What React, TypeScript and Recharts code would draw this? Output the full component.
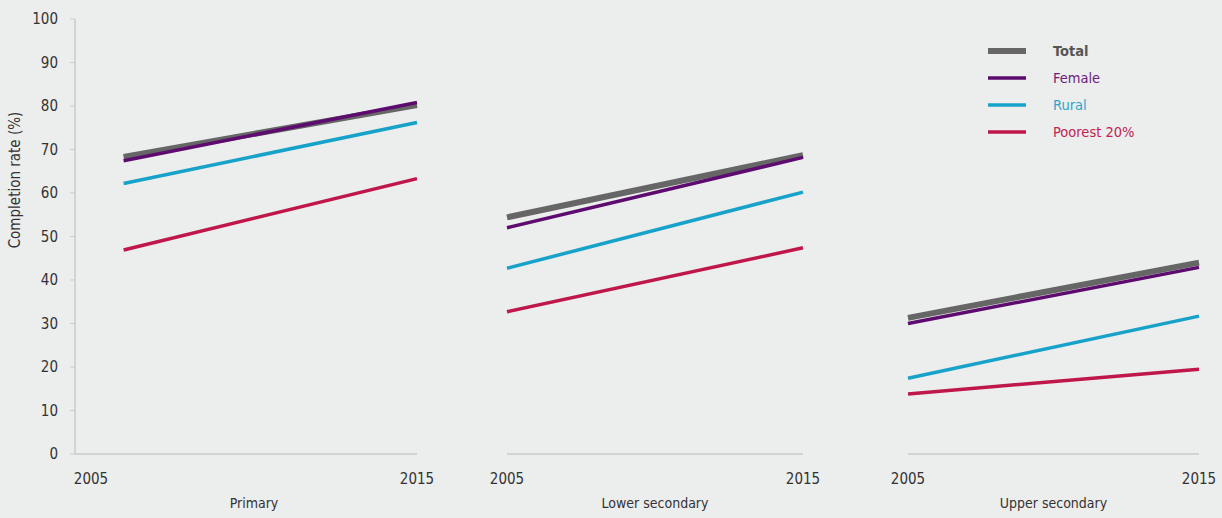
import React from 'react';
import { LineChart, Line, XAxis, YAxis, Label } from 'recharts';

// Education level of each panel
const levels = ['Primary', 'Lower secondary', 'Upper secondary'];
const startYears = [2006, 2005, 2005];
const endYears = [2015, 2015, 2015];
const xTicks = [2005, 2015];
const yTicks = [0, 10, 20, 30, 40, 50, 60, 70, 80, 90, 100];

// Completion rate (%) at the start and end year, one value per panel
const totalStart = [68.3, 54.4, 31.3];
const totalEnd = [80.2, 68.7, 44.0];
const femaleStart = [67.4, 52.0, 30.0];
const femaleEnd = [80.8, 68.2, 42.9];
const ruralStart = [62.2, 42.7, 17.4];
const ruralEnd = [76.2, 60.2, 31.7];
const poorestStart = [46.9, 32.7, 13.8];
const poorestEnd = [63.3, 47.4, 19.5];

const FONT = '"Liberation Sans Narrow", "DejaVu Sans Condensed", "DejaVu Sans", sans-serif';
const TEXT = '#333333';
const AXIS = '#c9cbc9';

const series = [
  { key: 'total', name: 'Total', color: '#666666', text: '#555555', width: 6, bold: true },
  { key: 'female', name: 'Female', color: '#5e0b6f', text: '#6a1e7c', width: 3.5, bold: false },
  { key: 'rural', name: 'Rural', color: '#17a2c9', text: '#2ba6cb', width: 3.5, bold: false },
  { key: 'poorest', name: 'Poorest 20%', color: '#c0174b', text: '#c02352', width: 3.5, bold: false },
];

// Builds the two points of each panel
const panelData = levels.map((_, i) => [
  { year: startYears[i], total: totalStart[i], female: femaleStart[i], rural: ruralStart[i], poorest: poorestStart[i] },
  { year: endYears[i], total: totalEnd[i], female: femaleEnd[i], rural: ruralEnd[i], poorest: poorestEnd[i] },
]);

const panels = [
  { left: 0, width: 450, mLeft: 0, mRight: 33, padLeft: 16, showY: true },
  { left: 480, width: 340, mLeft: 27, mRight: 17, padLeft: 0, showY: false },
  { left: 880, width: 342, mLeft: 28, mRight: 23, padLeft: 0, showY: false },
];

function PanelTitle({ viewBox, value, padLeft }: any) {
  const cx = viewBox.x + padLeft / 2 + viewBox.width / 2;
  return (
    <text x={cx} y={508} textAnchor="middle" fill={TEXT} fontSize={14} fontFamily={FONT}>
      {value}
    </text>
  );
}

function YTitle() {
  return (
    <text
      x={15}
      y={180}
      transform="rotate(-90 15 180)"
      textAnchor="middle"
      dominantBaseline="central"
      fill={TEXT}
      fontSize={15}
      fontFamily={FONT}
    >
      Completion rate (%)
    </text>
  );
}

function SeriesLegend() {
  return (
    <div style={{ position: 'absolute', left: 988, top: 37 }}>
      {series.map((s) => (
        <div key={s.key} style={{ display: 'flex', alignItems: 'center', height: 27 }}>
          <svg width={38} height={10} style={{ marginRight: 27 }}>
            <line x1={0} y1={5} x2={38} y2={5} stroke={s.color} strokeWidth={s.width} />
          </svg>
          <span
            style={{
              color: s.text,
              fontFamily: FONT,
              fontSize: 14.5,
              fontWeight: s.bold ? 'bold' : 'normal',
            }}
          >
            {s.name}
          </span>
        </div>
      ))}
    </div>
  );
}

export default function App() {
  return (
    <div style={{ position: 'relative', width: 1222, height: 518, background: '#eceded', overflow: 'hidden' }}>
      <style>{'body { margin: 0; }'}</style>
      {panels.map((p, i) => (
        <div key={levels[i]} style={{ position: 'absolute', left: p.left, top: 0 }}>
          <LineChart
            width={p.width}
            height={518}
            data={panelData[i]}
            margin={{ top: 19, right: p.mRight, bottom: 0, left: p.mLeft }}
          >
            <XAxis
              dataKey="year"
              type="number"
              domain={[2005, 2015]}
              ticks={xTicks}
              padding={{ left: p.padLeft, right: 0 }}
              height={64}
              axisLine={{ stroke: AXIS, strokeWidth: 1.5 }}
              tickLine={false}
              tickSize={0}
              tickMargin={19}
              tick={{ fill: TEXT, fontSize: 15, fontFamily: FONT }}
              interval={0}
            >
              <Label
                value={levels[i]}
                content={(props: any) => <PanelTitle {...props} value={levels[i]} padLeft={p.padLeft} />}
              />
            </XAxis>
            <YAxis
              domain={[0, 100]}
              ticks={yTicks}
              hide={!p.showY}
              width={75}
              axisLine={{ stroke: AXIS, strokeWidth: 1.5 }}
              tickLine={{ stroke: AXIS }}
              tickSize={5}
              tickMargin={12}
              tick={{ fill: TEXT, fontSize: 15, fontFamily: FONT }}
              interval={0}
            >
              {p.showY && <Label content={() => <YTitle />} />}
            </YAxis>
            {series.map((s) => (
              <Line
                key={s.key}
                type="linear"
                dataKey={s.key}
                name={s.name}
                stroke={s.color}
                strokeWidth={s.width}
                dot={false}
                activeDot={false}
                isAnimationActive={false}
              />
            ))}
          </LineChart>
        </div>
      ))}
      <SeriesLegend />
    </div>
  );
}
